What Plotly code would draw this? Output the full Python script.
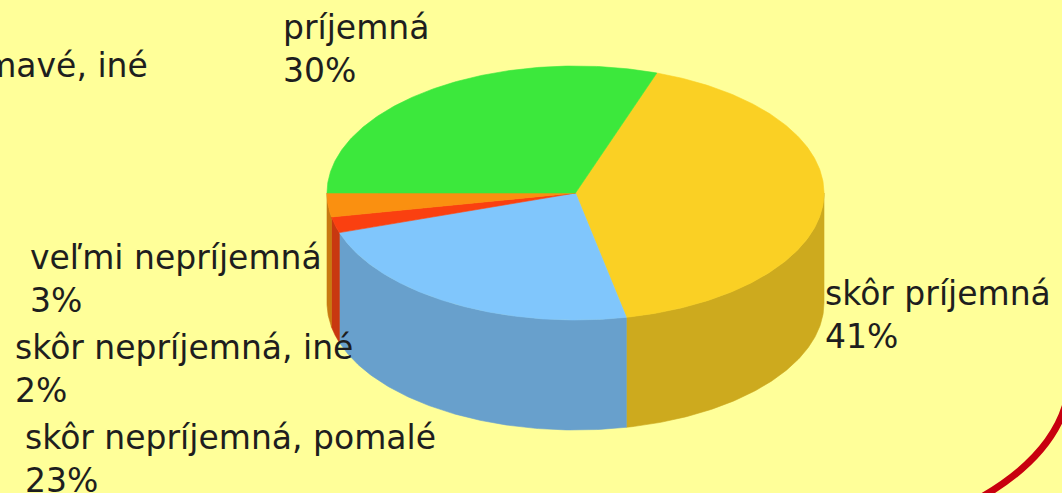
import numpy as np
import plotly.graph_objects as go

# ---- data (clockwise order, starting at the yellow slice) ----
categories = [
    "skôr príjemná",
    "skôr nepríjemná, pomalé",
    "skôr nepríjemná, iné",
    "veľmi nepríjemná",
    "veľmi príjemná, zaujímavé, iné",
    "príjemná",
]
values = [41, 23, 2, 3, 0, 30]

# ---- styles ----
top_colors = ["#FAD024", "#80C6FC", "#FA4010", "#FA9010", "#BBBBBB", "#3CE83C"]
side_colors = ["#CDAA1E", "#68A0CC", "#C83810", "#C87A10", "#999999", "#30B830"]
label_pos = {  # (x, y, xanchor) in pixel-like axis units
    "skôr príjemná": (823, 315, "left"),
    "skôr nepríjemná, pomalé": (23, 459, "left"),
    "skôr nepríjemná, iné": (13, 369, "left"),
    "veľmi nepríjemná": (28, 279, "left"),
    "veľmi príjemná, zaujímavé, iné": (150, 87, "right"),
    "príjemná": (281, 49, "left"),
}
W, H = 1062, 493
cx, cy, rx, ry, depth = 575.5, 193.0, 248.5, 127.0, 110.0
start_deg = 70.9
BG = "#FFFF99"
FONT = "DejaVu Sans"
FS = 33

total = float(sum(values))
fig = go.Figure()


def ell(th, dy=0.0):
    return cx + rx * np.cos(th), cy - ry * np.sin(th) + dy


# slice angle ranges (clockwise => decreasing angle)
ranges = []
a = np.radians(start_deg)
for v in values:
    span = 2 * np.pi * v / total
    ranges.append((a - span, a))
    a -= span

# side walls (front half only, angle in [pi, 2pi] mod 2pi)
for (lo, hi), col in zip(ranges, side_colors):
    if hi - lo <= 0:
        continue
    for k in range(-2, 2):
        wlo = max(lo, np.pi + 2 * np.pi * k)
        whi = min(hi, 2 * np.pi + 2 * np.pi * k)
        if whi - wlo <= 1e-9:
            continue
        th = np.linspace(wlo, whi, 120)
        xt, yt = ell(th)
        xb, yb = ell(th[::-1], depth)
        fig.add_trace(go.Scatter(
            x=np.concatenate([xt, xb, xt[:1]]),
            y=np.concatenate([yt, yb, yt[:1]]),
            mode="lines", fill="toself", fillcolor=col,
            line=dict(color=col, width=0.6),
            hoverinfo="skip", showlegend=False))

# top faces
for (lo, hi), col in zip(ranges, top_colors):
    if hi - lo <= 0:
        continue
    th = np.linspace(lo, hi, 200)
    xt, yt = ell(th)
    fig.add_trace(go.Scatter(
        x=np.concatenate([[cx], xt, [cx]]),
        y=np.concatenate([[cy], yt, [cy]]),
        mode="lines", fill="toself", fillcolor=col,
        line=dict(color=col, width=0.6),
        hoverinfo="skip", showlegend=False))

# labels
for cat, v in zip(categories, values):
    x, y, xa = label_pos[cat]
    fig.add_annotation(
        x=x, y=y, xref="x", yref="y", xanchor=xa, yanchor="middle",
        align="left", showarrow=False,
        text=f"{cat}<br>{v}%",
        font=dict(family=FONT, size=FS, color="#1E1E1E"))

# decorative red arc (slide background)
fig.add_shape(type="path", xref="x", yref="y",
              path="M 1066,404 Q 1050,458 980,498",
              line=dict(color="#C8000F", width=7), layer="above")

fig.update_layout(
    width=W, height=H,
    margin=dict(l=0, r=0, t=0, b=0),
    paper_bgcolor=BG, plot_bgcolor=BG,
    xaxis=dict(range=[0, W], visible=False, fixedrange=True),
    yaxis=dict(range=[H, 0], visible=False, fixedrange=True),
    showlegend=False,
)

fig.write_html(
    "out.html",
    config={"displayModeBar": False},
    post_script="document.body.style.margin='0';document.body.style.padding='0';"
                "document.body.style.background='#FFFF99';"
                "document.body.style.overflow='hidden';",
)
